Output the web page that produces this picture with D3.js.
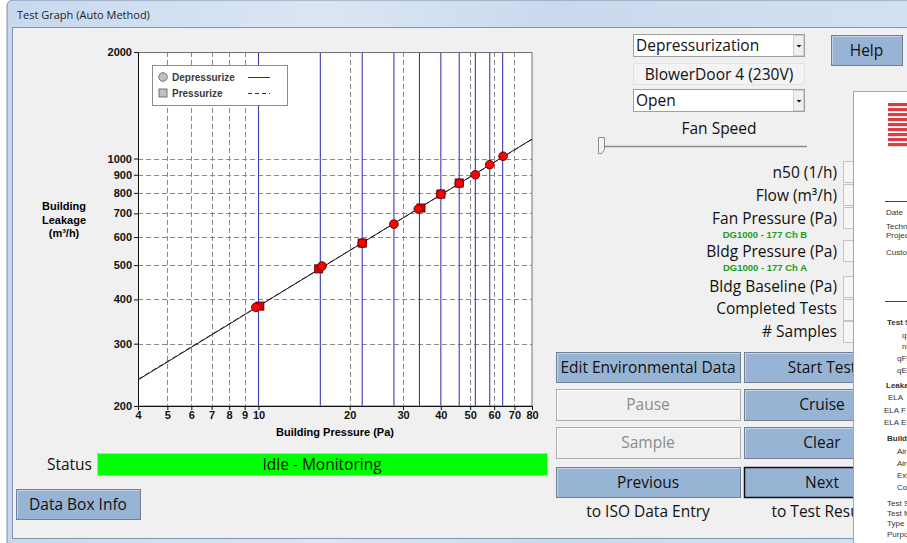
<!DOCTYPE html>
<html><head><meta charset="utf-8">
<script src="https://cdn.jsdelivr.net/npm/d3@7"></script>
<style>body{margin:0;background:#fff;overflow:hidden}svg{display:block}</style>
</head><body><svg id="c" width="907" height="543"></svg>
<script>
// ---- data ----
const xTicks = [4,5,6,7,8,9,10,20,30,40,50,60,70,80];
const yTicks = [200,300,400,500,600,700,800,900,1000,2000];
const gridX = [5,6,7,8,9,20,30,50,60,70];
const gridY = [300,400,500,600,700,800,900,1000];
const targetPressures = [10,16,22,28,34,40,46,52,58,64];
const depPressure = [9.8,16.2,22,28,33.7,40,46,52,58,64.2];
const depFlow     = [380,497,577,653,720,793,851,900,961,1015];
const prsPressure = [10.1,15.8,22,34.4,40,46];
const prsFlow     = [383,488,577,725,794,853];
const fitPressure = [4,80];
const depFitFlow  = [237,1135];
const prsFitFlow  = [238,1133];
const legendItems = ["Depressurize","Pressurize"];
const fieldLabels = ["n50 (1/h)","Flow (m\u00b3/h)","Fan Pressure (Pa)","Bldg Pressure (Pa)","Bldg Baseline (Pa)","Completed Tests","# Samples"];

const UI = "'Open Sans', 'Noto Sans', sans-serif";
const AR = "'Liberation Sans', Arial, sans-serif";
const svg = d3.select("#c");

// ---- window chrome ----
const defs = svg.append("defs");
const g1 = defs.append("linearGradient").attr("id","tb").attr("x1",0).attr("x2",1).attr("y1",0).attr("y2",0);
g1.append("stop").attr("offset","0").attr("stop-color","#c7d8ee");
g1.append("stop").attr("offset","0.35").attr("stop-color","#dbe6f4");
g1.append("stop").attr("offset","0.6").attr("stop-color","#c9d9ed");
g1.append("stop").attr("offset","1").attr("stop-color","#d3e0f1");
svg.append("rect").attr("x",7).attr("y",0).attr("width",910).attr("height",560).attr("rx",6).attr("fill","url(#tb)").attr("stroke","#7a8ba3");
svg.append("text").attr("x",17).attr("y",19).attr("font-family",UI).attr("font-size",11).attr("fill","#1e1e1e").text("Test Graph (Auto Method)");
svg.append("rect").attr("x",12.5).attr("y",27.5).attr("width",900).attr("height",511).attr("fill","#f0f0f0").attr("stroke","#8496ad");

// ---- chart ----
const x = d3.scaleLog().domain([4,80]).range([138,532]);
const y = d3.scaleLog().domain([200,2000]).range([406,52]);
svg.append("rect").attr("x",138).attr("y",52).attr("width",394).attr("height",354).attr("fill","#fff");
const grid = svg.append("g").attr("stroke","#8a8a8a").attr("stroke-dasharray","5,3").attr("stroke-width",1);
grid.selectAll(".gx").data(gridX).join("line").attr("x1",d=>Math.round(x(d))+0.5).attr("x2",d=>Math.round(x(d))+0.5).attr("y1",52).attr("y2",406);
grid.selectAll(".gy").data(gridY).join("line").attr("y1",d=>Math.round(y(d))+0.5).attr("y2",d=>Math.round(y(d))+0.5).attr("x1",138).attr("x2",532);
svg.append("g").selectAll("line").data(targetPressures).join("line")
  .attr("x1",d=>x(d)).attr("x2",d=>x(d)).attr("y1",52).attr("y2",406)
  .attr("stroke","#3a3ab6").attr("stroke-width",1.1);
svg.append("rect").attr("x",138.5).attr("y",52.5).attr("width",393.5).attr("height",353.5).attr("fill","none").attr("stroke","#707070");

const xa = svg.append("g").attr("transform","translate(0,406)")
  .call(d3.axisBottom(x).tickValues(xTicks).tickFormat(d3.format("d")).tickSize(4).tickSizeOuter(0));
const ya = svg.append("g").attr("transform","translate(138,0)")
  .call(d3.axisLeft(y).tickValues(yTicks).tickFormat(d3.format("d")).tickSize(4).tickSizeOuter(0));
[xa,ya].forEach(a=>{a.selectAll("text").attr("font-family",AR).attr("font-size",11).attr("font-weight","bold").attr("fill","#111");
  a.select(".domain").attr("stroke","#111"); a.selectAll(".tick line").attr("stroke","#111");});
xa.selectAll("text").attr("dy","0.55em");
ya.selectAll("text").attr("dx","1px");

// fit lines
const line = d3.line().x(d=>x(d[0])).y(d=>y(d[1]));
svg.append("path").datum(fitPressure.map((p,i)=>[p,prsFitFlow[i]])).attr("d",line).attr("fill","none").attr("stroke","#555").attr("stroke-width",1).attr("stroke-dasharray","5,3");
svg.append("path").datum(fitPressure.map((p,i)=>[p,depFitFlow[i]])).attr("d",line).attr("fill","none").attr("stroke","#111").attr("stroke-width",1);

// points
svg.append("g").selectAll("rect").data(prsPressure.map((p,i)=>[p,prsFlow[i]])).join("rect")
  .attr("x",d=>x(d[0])-4).attr("y",d=>y(d[1])-4).attr("width",8).attr("height",8)
  .attr("fill","#e00000").attr("stroke","#6a0000");
svg.append("g").selectAll("circle").data(depPressure.map((p,i)=>[p,depFlow[i]])).join("circle")
  .attr("cx",d=>x(d[0])).attr("cy",d=>y(d[1])).attr("r",4.3)
  .attr("fill","#ff0000").attr("stroke","#6a0000");

// legend
const lg = svg.append("g");
lg.append("rect").attr("x",152.5).attr("y",65.5).attr("width",135).attr("height",40).attr("fill","#fff").attr("stroke","#8a8a8a");
lg.selectAll("text").data(legendItems).join("text").attr("x",172).attr("y",(d,i)=>81+i*16)
  .attr("font-family",AR).attr("font-size",10).attr("font-weight","bold").attr("fill","#3a3a3a").text(d=>d);
lg.append("circle").attr("cx",163).attr("cy",77).attr("r",4.3).attr("fill","#c0c0c0").attr("stroke","#777");
lg.append("rect").attr("x",159).attr("y",89).attr("width",8).attr("height",8).attr("fill","#c0c0c0").attr("stroke","#777");
lg.append("line").attr("x1",248).attr("x2",270).attr("y1",77.5).attr("y2",77.5).attr("stroke","#333");
lg.append("line").attr("x1",248).attr("x2",270).attr("y1",93.5).attr("y2",93.5).attr("stroke","#333").attr("stroke-dasharray","4,3");

// axis titles
svg.append("text").attr("x",335).attr("y",436).attr("text-anchor","middle").attr("font-family",AR).attr("font-size",11).attr("font-weight","bold").text("Building Pressure (Pa)");
const yl = svg.append("text").attr("text-anchor","middle").attr("font-family",AR).attr("font-size",11).attr("font-weight","bold");
["Building","Leakage","(m\u00b3/h)"].forEach((t,i)=>yl.append("tspan").attr("x",64).attr("y",210+i*13.5).text(t));

// ---- controls ----
function button(x0,y0,w,h,label,opt={}){
  const g = svg.append("g");
  const dis = opt.disabled;
  g.append("rect").attr("x",x0+0.5).attr("y",y0+0.5).attr("width",w).attr("height",h)
    .attr("fill",dis?"#f0f0f0":"#98b4d4").attr("stroke",opt.focus?"#111":(dis?"#adadad":"#707f92")).attr("stroke-width",opt.focus?1.5:1);
  if(!opt.focus){
    g.append("path").attr("d",`M${x0+1.5},${y0+h-0.5}V${y0+1.5}H${x0+w-0.5}`).attr("fill","none").attr("stroke",dis?"#fff":"#c4d4e8");
  }
  g.append("text").attr("x",opt.tx!==undefined?opt.tx:x0+w/2).attr("y",y0+h/2+5.5).attr("text-anchor","middle")
    .attr("font-family",UI).attr("font-size",15.5).attr("fill",dis?"#8c8c8c":"#111").text(label);
}
button(16,489,124,30,"Data Box Info");
button(831,35,71,30,"Help");
button(556,352,184,30,"Edit Environmental Data");
button(744,352,120,30,"Start Test",{tx:822});
button(556,389,184,31,"Pause",{disabled:true});
button(744,389,120,31,"Cruise",{tx:822});
button(556,427,184,31,"Sample",{disabled:true});
button(744,427,120,31,"Clear",{tx:822});
button(556,467,184,30,"Previous");
button(744,467,120,30,"Next",{focus:true,tx:822});
svg.append("text").attr("x",648).attr("y",517).attr("text-anchor","middle").attr("font-family",UI).attr("font-size",15.5).attr("fill","#111").text("to ISO Data Entry");
svg.append("text").attr("x",824).attr("y",517).attr("text-anchor","middle").attr("font-family",UI).attr("font-size",15.5).attr("fill","#111").text("to Test Results");

// status
svg.append("text").attr("x",92).attr("y",470).attr("text-anchor","end").attr("font-family",UI).attr("font-size",15.5).attr("fill","#111").text("Status");
svg.append("rect").attr("x",97.5).attr("y",453.5).attr("width",450).attr("height",22).attr("fill","#00ff00").attr("stroke","#c8c8c8");
svg.append("text").attr("x",322).attr("y",470).attr("text-anchor","middle").attr("font-family",UI).attr("font-size",15.5).attr("fill","#111").text("Idle - Monitoring");

// dropdowns
function dropdown(y0,label){
  svg.append("rect").attr("x",633.5).attr("y",y0+0.5).attr("width",171).attr("height",22).attr("fill","#fff").attr("stroke","#a0a0a0");
  svg.append("rect").attr("x",793.5).attr("y",y0+1.5).attr("width",10).attr("height",20).attr("fill","#f0f0f0").attr("stroke","#d0d0d0");
  svg.append("path").attr("d",`M796.5,${y0+11}h5l-2.5,2.5z`).attr("fill","#111");
  svg.append("text").attr("x",636).attr("y",y0+17).attr("font-family",UI).attr("font-size",15.5).attr("fill","#111").text(label);
}
dropdown(34,"Depressurization");
svg.append("rect").attr("x",633.5).attr("y",63.5).attr("width",171).attr("height",21).attr("fill","#f3f3f3").attr("stroke","#e2e2e2");
svg.append("text").attr("x",719).attr("y",80).attr("text-anchor","middle").attr("font-family",UI).attr("font-size",15.5).attr("fill","#111").text("BlowerDoor 4 (230V)");
dropdown(89,"Open");
svg.append("text").attr("x",719).attr("y",134).attr("text-anchor","middle").attr("font-family",UI).attr("font-size",15.5).attr("fill","#111").text("Fan Speed");
svg.append("line").attr("x1",603).attr("x2",807).attr("y1",146.5).attr("y2",146.5).attr("stroke","#8a8a8a").attr("stroke-width",1.5);
svg.append("path").attr("d","M598.5,137.5h6v12l-3,4h-3z").attr("fill","#f4f4f4").attr("stroke","#8a8a8a");

// field labels & boxes
const labelY = [172,195,218,251,286,308,331];
const boxY = [161,184,207,240,276,299,321];
svg.append("g").selectAll("text").data(fieldLabels).join("text").attr("x",837).attr("y",(d,i)=>labelY[i]+5.5)
  .attr("text-anchor","end").attr("font-family",UI).attr("font-size",15.5).attr("fill","#111").text(d=>d);
svg.append("g").selectAll("rect").data(fieldLabels).join("rect").attr("x",843.5).attr("y",(d,i)=>boxY[i]+0.5)
  .attr("width",20).attr("height",21).attr("fill","#f6f6f6").attr("stroke","#c4c4c4");
svg.append("text").attr("x",765).attr("y",238).attr("text-anchor","middle").attr("font-family",AR).attr("font-size",9.5).attr("font-weight","bold").attr("fill","#1c9c1c").text("DG1000 - 177 Ch B");
svg.append("text").attr("x",765).attr("y",271).attr("text-anchor","middle").attr("font-family",AR).attr("font-size",9.5).attr("font-weight","bold").attr("fill","#1c9c1c").text("DG1000 - 177 Ch A");

// report preview panel
svg.append("rect").attr("x",853.5).attr("y",91.5).attr("width",60).attr("height",460).attr("fill","#fff").attr("stroke","#a8a8a8");
const logo = svg.append("g");
d3.range(9).forEach(i=>logo.append("rect").attr("x",888).attr("y",103+i*5).attr("width",20).attr("height",3.2).attr("fill","#d9272e").attr("opacity",0.9));
svg.append("line").attr("x1",885).attr("x2",907).attr("y1",201.5).attr("y2",201.5).attr("stroke","#444");
svg.append("line").attr("x1",885).attr("x2",907).attr("y1",301.5).attr("y2",301.5).attr("stroke","#444");
const rep = [["Date",886,215,0],["Technician",886,229,0],["Project",886,238,0],["Customer",886,255,0],
 ["Test Summary",887,325,1],["q50",902,338,0],["n50",902,349,0],["qF50",897,361,0],["qE50",897,373,0],
 ["Leakage",886,388,1],["ELA",888,400,0],["ELA F",884,413,0],["ELA E",884,425,0],
 ["Building",887,441,1],["Air",897,454,0],["Air",897,466,0],["Exterior",897,478,0],["Comments",897,490,0],
 ["Test Standard",887,506,0],["Test Mode",887,516,0],["Type",887,526,0],["Purpose",887,537,0]];
svg.append("g").selectAll("text").data(rep).join("text").attr("x",d=>d[1]).attr("y",d=>d[2])
  .attr("font-family",AR).attr("font-size",8).attr("font-weight",d=>d[3]?"bold":"normal").attr("fill","#333").text(d=>d[0]);
</script></body></html>
